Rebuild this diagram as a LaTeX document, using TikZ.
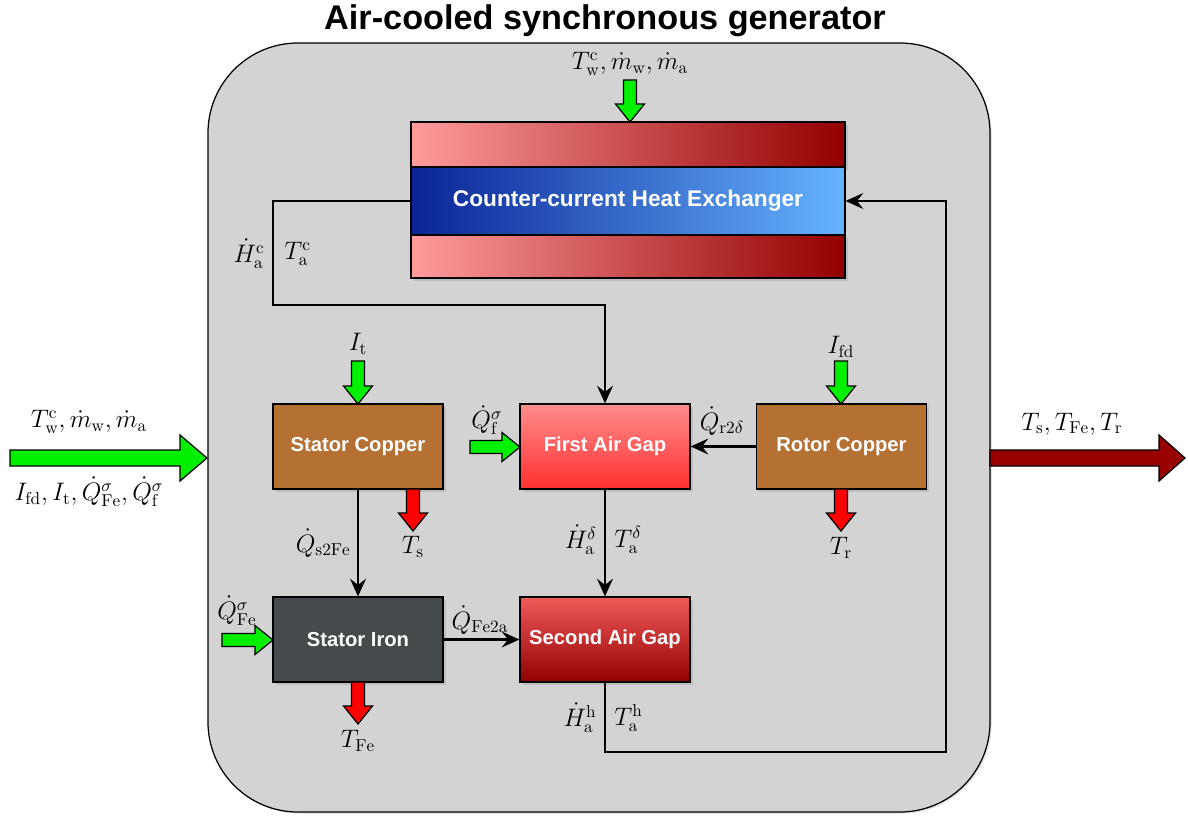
\documentclass[tikz,border=0pt]{standalone}
\usepackage{fontspec}
\setsansfont{Liberation Sans}
\usetikzlibrary{arrows.meta,shadows,calc}
\definecolor{bgray}{HTML}{D3D3D3}
\definecolor{copper}{HTML}{B57033}
\definecolor{iron}{HTML}{454B4D}
\definecolor{gfill}{HTML}{00F000}
\definecolor{rfill}{HTML}{FF0000}
\definecolor{drfill}{HTML}{990000}
\definecolor{hxl}{HTML}{FF9C9C}
\definecolor{hxr}{HTML}{930000}
\definecolor{bl}{HTML}{0A2496}
\definecolor{br}{HTML}{66B3FF}
\definecolor{fagt}{HTML}{FF8C8C}
\definecolor{fagb}{HTML}{FF3030}
\definecolor{sagt}{HTML}{F25A5A}
\definecolor{sagb}{HTML}{930000}
\newcommand\blkV[7]{% x, ytop, ybot, shaft half, head half, head len, colour
  \filldraw[draw=black, fill=#7, line width=0.7pt] (#1-#4,#2) -- (#1+#4,#2) -- (#1+#4,#3-#6) -- (#1+#5,#3-#6) -- (#1,#3) -- (#1-#5,#3-#6) -- (#1-#4,#3-#6) -- cycle;}
\newcommand\blkH[7]{% y, xleft, xright, shaft half, head half, head len, colour
  \filldraw[draw=black, fill=#7, line width=0.7pt] (#2,#1-#4) -- (#3-#6,#1-#4) -- (#3-#6,#1-#5) -- (#3,#1) -- (#3-#6,#1+#5) -- (#3-#6,#1+#4) -- (#2,#1+#4) -- cycle;}
\begin{document}
\begin{tikzpicture}[x=0.02cm,y=-0.02cm,
  blk/.style={draw=black, line width=0.7pt, minimum width=3.4cm, minimum height=1.7cm, inner sep=0pt,
    text=white, font=\sffamily\bfseries\fontsize{11.5}{13}\selectfont,
    drop shadow={opacity=0.25, shadow xshift=1.5pt, shadow yshift=-1.5pt}},
  lbl/.style={font=\fontsize{14}{16}\selectfont, inner sep=0pt},
  conn/.style={draw=black, line width=1.4pt, -{Stealth[length=10pt,width=9pt,inset=3.5pt]}},
  wire/.style={draw=black, line width=1.4pt}]
\useasboundingbox (0,0) rectangle (1188,816);
\fill[white] (0,0) rectangle (1188,816);
% title
\node[font=\sffamily\bfseries\fontsize{19.5}{22}\selectfont, inner sep=0pt] (title) at (605,21) {Air-cooled synchronous generator};
% container
\filldraw[fill=bgray, draw=black, line width=0.7pt, rounded corners=1.8cm,
  drop shadow={opacity=0.2, shadow xshift=1pt, shadow yshift=-1pt}] (208,43) rectangle (990,812);
% heat exchanger
\node[draw=black, line width=0.7pt, left color=hxl, right color=hxr, minimum width=8.68cm, minimum height=0.9cm, inner sep=0pt,
  drop shadow={opacity=0.25, shadow xshift=1.5pt, shadow yshift=-1.5pt}] (hxtop) at (628,144.5) {};
\node[draw=black, line width=0.7pt, left color=hxl, right color=hxr, minimum width=8.68cm, minimum height=0.86cm, inner sep=0pt,
  drop shadow={opacity=0.25, shadow xshift=1.5pt, shadow yshift=-1.5pt}] (hxbot) at (628,256.5) {};
\node[draw=black, line width=0.7pt, left color=bl, right color=br, minimum width=8.68cm, minimum height=1.36cm, inner sep=0pt,
  text=white, font=\sffamily\bfseries\fontsize{12.9}{14}\selectfont] (hx) at (628,201) {Counter-current Heat Exchanger};
% blocks
\node[blk, fill=copper] (sc) at (358,446.5) {Stator Copper};
\node[blk, top color=fagt, bottom color=fagb] (fag) at (605,446.5) {First Air Gap};
\node[blk, fill=copper] (rc) at (841.5,446.5) {Rotor Copper};
\node[blk, fill=iron] (si) at (358,639.5) {Stator Iron};
\node[blk, top color=sagt, bottom color=sagb] (sag) at (605,639.5) {Second Air Gap};
% connectors
\coordinate (c1) at (273,201);
\coordinate (c2) at (273,305);
\coordinate (c3) at (605,305);
\draw[conn] (hx.west) -- (c1) -- (c2) -- (c3) -- (fag.north);
\draw[conn] (rc.west) -- (fag.east);
\draw[conn] (sc.south) -- (si.north);
\draw[conn] (fag.south) -- (sag.north);
\draw[conn] (si.east) -- (sag.west);
\coordinate (d1) at (605,752);
\coordinate (d2) at (946,752);
\coordinate (d3) at (946,201);
\draw[conn] (sag.south) -- (d1) -- (d2) -- (d3) -- (hx.east);
% block arrows
\blkV{630}{80}{122}{6.5}{14.5}{18}{gfill}
\blkV{358}{361}{404}{6.5}{14.5}{18}{gfill}
\blkV{841}{361}{404}{6.5}{14.5}{18}{gfill}
\blkV{413}{489}{531}{6.5}{14.5}{18}{rfill}
\blkV{841}{489}{531}{6.5}{14.5}{18}{rfill}
\blkV{358}{682}{724}{6.5}{14.5}{18}{rfill}
\blkH{447}{470}{520}{6.5}{14.5}{18}{gfill}
\blkH{640}{222}{273}{6.5}{14.5}{18}{gfill}
\blkH{458}{10}{207}{8}{23}{27}{gfill}
\blkH{458}{990}{1185}{8}{23}{26}{drfill}
% labels
\node[lbl] (lhx) at (630,64) {$T_{\mathrm{w}}^{\mathrm{c}}, \dot{m}_{\mathrm{w}}, \dot{m}_{\mathrm{a}}$};
\node[lbl] (lin1) at (89,422) {$T_{\mathrm{w}}^{\mathrm{c}}, \dot{m}_{\mathrm{w}}, \dot{m}_{\mathrm{a}}$};
\node[lbl] (lin2) at (89,492) {$I_{\mathrm{fd}}, I_{\mathrm{t}}, \dot{Q}_{\mathrm{Fe}}^{\sigma}, \dot{Q}_{\mathrm{f}}^{\sigma}$};
\node[lbl] (lout) at (1072,424) {$T_{\mathrm{s}}, T_{\mathrm{Fe}}, T_{\mathrm{r}}$};
\node[lbl] (lit) at (358,344) {$I_{\mathrm{t}}$};
\node[lbl] (lifd) at (841,347) {$I_{\mathrm{fd}}$};
\node[lbl] (lqf) at (487,420) {$\dot{Q}_{\mathrm{f}}^{\sigma}$};
\node[lbl] (lqfe) at (237,611) {$\dot{Q}_{\mathrm{Fe}}^{\sigma}$};
\node[lbl] (lts) at (413,547) {$T_{\mathrm{s}}$};
\node[lbl] (ltr) at (841,548) {$T_{\mathrm{r}}$};
\node[lbl] (ltfe) at (358,741) {$T_{\mathrm{Fe}}$};
\node[lbl, anchor=east] (lqs) at (351,543) {$\dot{Q}_{\mathrm{s2Fe}}$};
\node[lbl, anchor=east] (lhd) at (597,540) {$\dot{H}_{\mathrm{a}}^{\delta}$};
\node[lbl, anchor=west] (ltd) at (614,540) {$T_{\mathrm{a}}^{\delta}$};
\node[lbl] (lqfe2a) at (480,620) {$\dot{Q}_{\mathrm{Fe2a}}$};
\node[lbl, anchor=east] (lhh) at (597,718) {$\dot{H}_{\mathrm{a}}^{\mathrm{h}}$};
\node[lbl, anchor=west] (lth) at (614,718) {$T_{\mathrm{a}}^{\mathrm{h}}$};
\node[lbl, anchor=east] (lhc) at (265,254) {$\dot{H}_{\mathrm{a}}^{\mathrm{c}}$};
\node[lbl, anchor=west] (ltc) at (284,254) {$T_{\mathrm{a}}^{\mathrm{c}}$};
\node[lbl] (lqr) at (722,421) {$\dot{Q}_{\mathrm{r2}\delta}$};
\end{tikzpicture}
\end{document}
